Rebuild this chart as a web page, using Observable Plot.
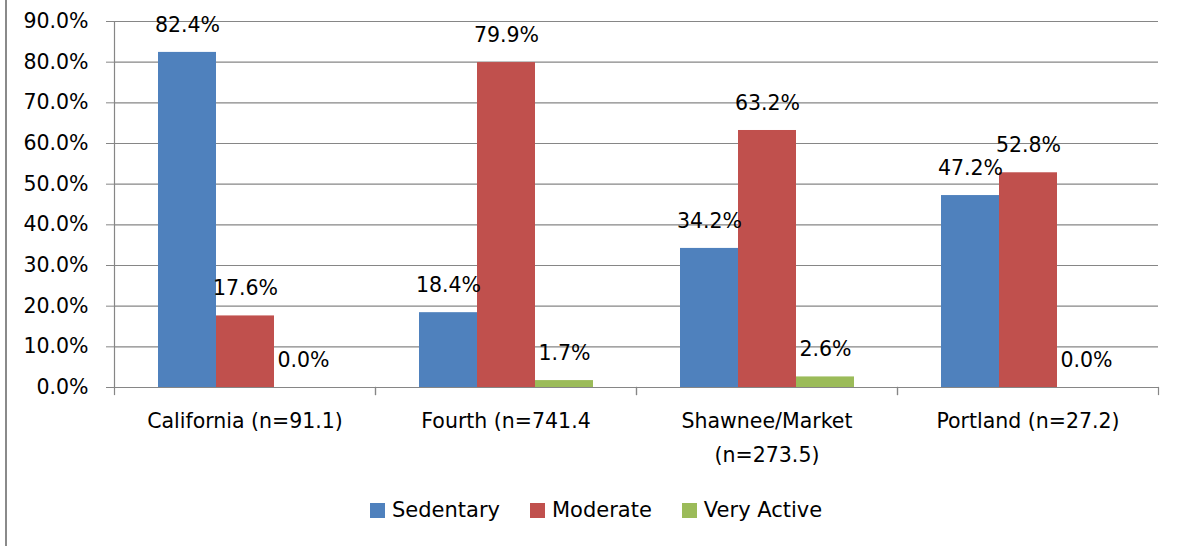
<!DOCTYPE html>
<html>
<head>
<meta charset="utf-8">
<script src="https://cdn.jsdelivr.net/npm/d3@7"></script>
<script src="https://cdn.jsdelivr.net/npm/@observablehq/plot@0.6"></script>
<style>
  html, body { margin: 0; padding: 0; background: white; }
  #wrap { position: relative; width: 1177px; height: 546px; overflow: hidden; font-family: "DejaVu Sans", sans-serif; }
  #chart { position: absolute; left: 0; top: 0; }
  #border { position: absolute; left: 5px; top: 0; width: 2px; height: 546px; background: #8a8a8a; z-index: 2; }
  #legend { position: absolute; left: 370px; top: 490px; height: 40px; display: flex; align-items: center; font-size: 21px; color: black; z-index: 2; }
  .item { display: flex; align-items: center; margin-right: 30px; }
  .sw { width: 15px; height: 15px; margin-right: 7px; }
</style>
</head>
<body>
<div id="wrap">
  <div id="chart"></div>
  <div id="border"></div>
  <div id="legend"></div>
</div>
<script>
const categories = ["California (n=91.1)", "Fourth (n=741.4", "Shawnee/Market (n=273.5)", "Portland (n=27.2)"];
const tickLabels = ["California (n=91.1)", "Fourth (n=741.4", "Shawnee/Market\n(n=273.5)", "Portland (n=27.2)"];
const series = ["Sedentary", "Moderate", "Very Active"];
const sedentary = [82.4, 18.4, 34.2, 47.2];
const moderate = [17.6, 79.9, 63.2, 52.8];
const veryActive = [0.0, 1.7, 2.6, 0.0];
const colors = ["#4F81BD", "#C0504D", "#9BBB59"];
const yTicks = [0, 10, 20, 30, 40, 50, 60, 70, 80, 90];

const seriesValues = [sedentary, moderate, veryActive];
const rows = categories.flatMap((c, i) =>
  seriesValues.map((vals, j) => ({category: c, series: series[j], value: vals[i]}))
);
const grid = "#868686";
const pct = d => d.toFixed(1) + "%";
const fs = 20.5;

const chart = Plot.plot({
  width: 1177,
  height: 490,
  marginLeft: 114,
  marginRight: 19,
  marginTop: 21,
  marginBottom: 103,
  style: {fontFamily: "DejaVu Sans", fontSize: fs + "px", color: "black", background: "white"},
  fx: {domain: categories, padding: 0},
  x: {domain: series, paddingInner: 0, paddingOuter: 0.75, axis: null},
  y: {domain: [0, 90]},
  color: {domain: series, range: colors},
  marks: [
    Plot.ruleY(yTicks, {stroke: grid, strokeWidth: 1.2}),
    Plot.barY(rows, {fx: "category", x: "series", y: "value", fill: "series"}),
    Plot.text(rows, {fx: "category", x: "series", y: "value", text: d => pct(d.value), dy: -27, fontSize: fs, fill: "black"}),
    Plot.frame({anchor: "left", facetAnchor: "left", stroke: grid, strokeWidth: 1.2}),
    Plot.frame({anchor: "left", insetTop: 366, insetBottom: -7, stroke: grid, strokeWidth: 1.2}),
    Plot.frame({anchor: "right", insetTop: 366, insetBottom: -7, stroke: grid, strokeWidth: 1.2}),
    Plot.axisY({ticks: yTicks, tickFormat: pct, tickSize: 8, tickPadding: 18, stroke: grid, fill: "black", fontSize: fs, label: null}),
    Plot.axisFx({anchor: "bottom", tickSize: 0, tickPadding: 16, tickFormat: d => tickLabels[categories.indexOf(d)], lineHeight: 1.68, fontSize: fs, label: null})
  ]
});
document.getElementById("chart").appendChild(chart);

const legend = document.getElementById("legend");
series.forEach((s, i) => {
  const item = document.createElement("div");
  item.className = "item";
  const sw = document.createElement("div");
  sw.className = "sw";
  sw.style.background = colors[i];
  const label = document.createElement("span");
  label.textContent = s;
  item.appendChild(sw);
  item.appendChild(label);
  legend.appendChild(item);
});
</script>
</body>
</html>
